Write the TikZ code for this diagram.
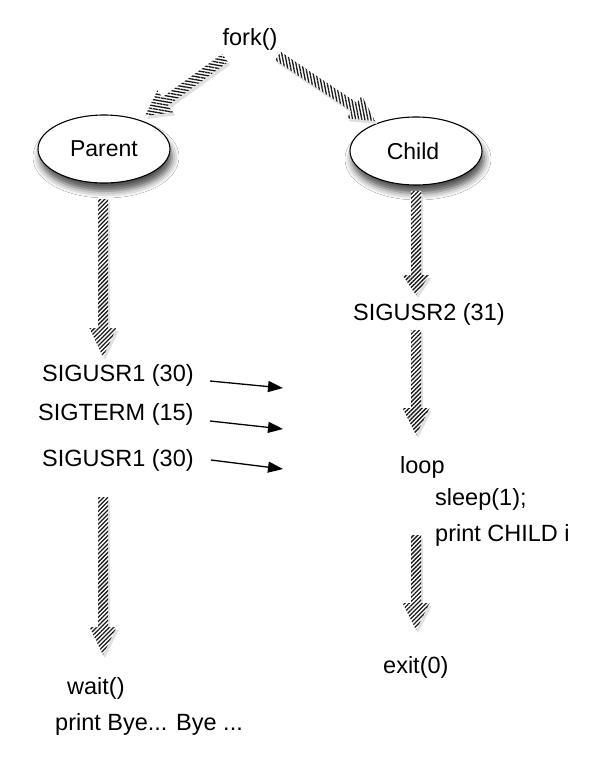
\documentclass[tikz,border=0pt]{standalone}
\usepackage{fontspec}
\setmainfont{Liberation Sans}
\usetikzlibrary{shapes.geometric,calc,patterns.meta,shadows.blur,arrows.meta}
\tikzset{
  x=1pt,y=-1pt,
  lbl/.style={font=\fontsize{23.5}{28}\selectfont, inner sep=0pt, text height=17pt, text depth=0pt},
  proc/.style={ellipse, draw, line width=1.1pt, fill=white, minimum width=132pt, minimum height=68pt,
    inner sep=0pt, font=\fontsize{23}{28}\selectfont,
    blur shadow={shadow xshift=2pt, shadow yshift=-8pt, shadow blur radius=7pt, shadow opacity=70}},
  sig/.style={line width=1.3pt, -{Triangle[length=15pt,width=11pt]}},
}
% start, end, hatch angle, head length
\newcommand\blockarr[4]{%
  \coordinate (H) at ($(#2)!#4pt!(#1)$);
  \fill[black!12]
    ([shift={(2,3)}]$(#1)!5pt!90:(#2)$) -- ([shift={(2,3)}]$(H)!5pt!90:(#2)$) --
    ([shift={(2,3)}]$(H)!13.5pt!90:(#2)$) -- ([shift={(2,3)}]#2) --
    ([shift={(2,3)}]$(H)!13.5pt!-90:(#2)$) -- ([shift={(2,3)}]$(H)!5pt!-90:(#2)$) --
    ([shift={(2,3)}]$(#1)!5pt!-90:(#2)$) -- cycle;
  \fill[white]
    ($(#1)!5pt!90:(#2)$) -- ($(H)!5pt!90:(#2)$) -- ($(H)!13.5pt!90:(#2)$) -- (#2) --
    ($(H)!13.5pt!-90:(#2)$) -- ($(H)!5pt!-90:(#2)$) -- ($(#1)!5pt!-90:(#2)$) -- cycle;
  \path[pattern={Lines[angle=#3,distance=3pt,line width=1.3pt]}, pattern color=black!90]
    ($(#1)!5pt!90:(#2)$) -- ($(H)!5pt!90:(#2)$) -- ($(H)!13.5pt!90:(#2)$) -- (#2) --
    ($(H)!13.5pt!-90:(#2)$) -- ($(H)!5pt!-90:(#2)$) -- ($(#1)!5pt!-90:(#2)$) -- cycle;
}
\begin{document}
\begin{tikzpicture}
\useasboundingbox (0,0) rectangle (600,758);
\fill[white] (0,0) rectangle (600,758);

% texts
\node[lbl] (fork) at (250,37) {fork()};
\node[proc] (parent) at (104,149) {Parent};
\node[proc] (child) at (416,151) {\hspace*{-6pt}Child};

\node[lbl, anchor=west] (usr1a) at (42,373) {SIGUSR1 (30)};
\node[lbl, anchor=west] (term) at (38,412) {SIGTERM (15)};
\node[lbl, anchor=west] (usr1b) at (42,458) {SIGUSR1 (30)};
\node[lbl, anchor=west] (wait) at (67,686) {wait()};
\node[lbl, anchor=west] (bye) at (55,722) {print Bye... Bye ...};

\node[lbl, anchor=west] (usr2) at (353,312) {SIGUSR2 (31)};
\node[lbl, anchor=west] (loop) at (400,465) {loop};
\node[lbl, anchor=west] (sleep) at (435,497) {sleep(1);};
\node[lbl, anchor=west] (print) at (435,533) {print CHILD i};
\node[lbl, anchor=west] (exit) at (383,665) {exit(0)};

% arrow end points
\coordinate (f1s) at (225,58);  \coordinate (f1e) at (145,116);
\coordinate (f2s) at (278,56);  \coordinate (f2e) at (375,121);
\coordinate (p1s) at (103,199); \coordinate (p1e) at (103,357);
\coordinate (p2s) at (103,497); \coordinate (p2e) at (103,655);
\coordinate (c1s) at (416,191); \coordinate (c1e) at (416,295);
\coordinate (c2s) at (416,330); \coordinate (c2e) at (416,435);
\coordinate (c3s) at (416,535); \coordinate (c3e) at (416,630);

\blockarr{f1s}{f1e}{-10}{25}
\blockarr{f2s}{f2e}{101}{25}
\blockarr{p1s}{p1e}{45}{29}
\blockarr{p2s}{p2e}{45}{28}
\blockarr{c1s}{c1e}{45}{20}
\blockarr{c2s}{c2e}{45}{27}
\blockarr{c3s}{c3e}{45}{27}

% signal arrows
\coordinate (s1s) at (210,381); \coordinate (s1e) at (283,388);
\coordinate (s2s) at (210,421); \coordinate (s2e) at (283,429);
\coordinate (s3s) at (211,460); \coordinate (s3e) at (283,469);
\draw[sig] (s1s) -- (s1e);
\draw[sig] (s2s) -- (s2e);
\draw[sig] (s3s) -- (s3e);
\end{tikzpicture}
\end{document}
